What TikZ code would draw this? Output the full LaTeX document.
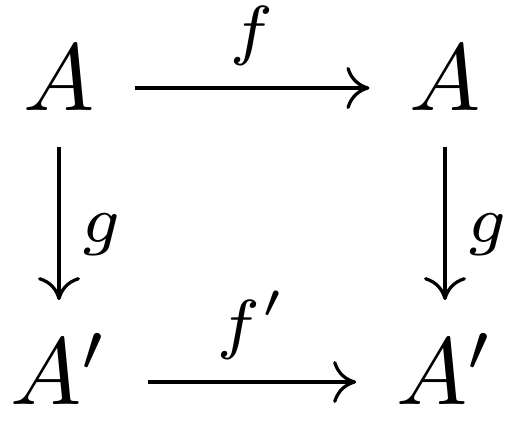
\documentclass[tikz,border=0pt]{standalone}
\usepackage{amsmath}
\usetikzlibrary{arrows.meta}

\begin{document}
\begin{tikzpicture}[
    x=0.10526pt, y=-0.10526pt,
    font=\fontsize{10}{12}\selectfont,
    obj/.style={inner xsep=4pt, inner ysep=1.05pt, text height=7.37pt, text depth=2.53pt},
    lab/.style={inner sep=2.21pt},
    arr/.style={line width=0.34pt, -{Computer Modern Rightarrow[length=2.42pt, width=4.42pt]}}
  ]
  \useasboundingbox (0,0) rectangle (520,430);

  % Top row
  \node[obj] (tl) at (59,88) {$A$};
  \node[obj] (tr) at (445,88) {$A$};

  % Bottom row
  \node[obj] (bl) at (59,382) {$A'$};
  \node[obj] (br) at (445,382) {$A'$};

  % Horizontal arrows
  \draw[arr] (tl) -- node[lab, above] {$\scriptstyle f$} (tr);
  \draw[arr] (bl) -- node[lab, above] {$\scriptstyle f'$} (br);

  % Vertical arrows
  \draw[arr, shorten >=2.42pt] (tl) -- node[lab, right] {$\scriptstyle g$} (bl);
  \draw[arr, shorten >=2.42pt] (tr) -- node[lab, right] {$\scriptstyle g$} (br);
\end{tikzpicture}
\end{document}
